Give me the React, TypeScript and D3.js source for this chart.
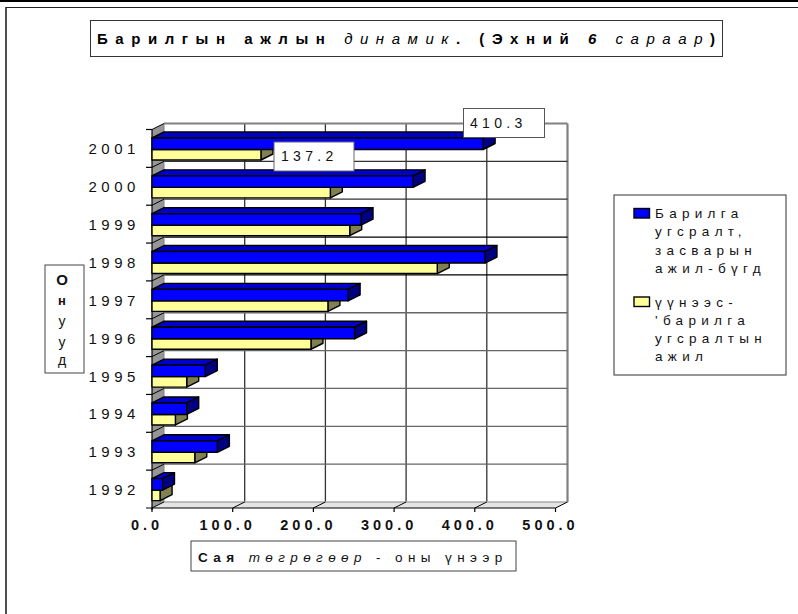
import React from "react";
import * as d3 from "d3";

const years = ["2001","2000","1999","1998","1997","1996","1995","1994","1993","1992"];
const repairWork = [410.3,323.5,259,412.6,243,251,66,43,81,13];
const buildingWork = [135,221,245,353.5,218,197,43,29,53,10];
const valueTicks = [0,100,200,300,400,500];
const series = [
  { name: "building", offset: 11.5, height: 10.5, values: buildingWork, front: "#ffff99", top: "#cccc7a", side: "#808050" },
  { name: "repair", offset: 0, height: 11.5, values: repairWork, front: "#0000ff", top: "#0000c8", side: "#000080" },
];
const legendLines1 = ["Барилга","угсралт,","засварын","ажил-бүгд"];
const legendLines2 = ["үүнээс-","'барилга","угсралтын","ажил"];
const yLabel = ["О","н","у","у","д"];
const font = "Liberation Sans, Arial, sans-serif";

const x = d3.scaleLinear().domain([0,500]).range([152,555.5]);
const y = d3.scaleBand().domain(years).range([129.5,508]);
const DX = 12, DY = 6;
const pts = (p: number[][]) => p.map(a => a.join(",")).join(" ");

export default function App() {
  const wallTop = 129.5 - DY, wallBottom = 508 - DY;
  const bars: React.ReactNode[] = [];
  years.forEach((yr, i) => {
    const band = y(yr)!;
    series.forEach((s) => {
      const h = s.height;
      const yy = band + 8.5 + s.offset;
      const x0 = x(0), x1 = x(s.values[i]);
      bars.push(<g key={yr + s.name} stroke="#000" strokeWidth={1.4} strokeLinejoin="round">
        <polygon points={pts([[x0,yy],[x0+DX,yy-DY],[x1+DX,yy-DY],[x1,yy]])} fill={s.top} />
        <polygon points={pts([[x1,yy],[x1+DX,yy-DY],[x1+DX,yy+h-DY],[x1,yy+h]])} fill={s.side} />
        <rect x={x0} y={yy} width={x1-x0} height={h} fill={s.front} />
      </g>);
    });
  });
  const spaced = (ls: number) => ({ letterSpacing: ls, fontFamily: font });
  return (
    <svg width={798} height={614} style={{ position: "absolute", left: 0, top: 0, background: "#fff" }}>
      <line x1={0} x2={798} y1={1} y2={1} stroke="#000" strokeWidth={2} />
      <line x1={6} x2={798} y1={7.5} y2={7.5} stroke="#222" strokeWidth={1.2} />
      <line x1={6} x2={6} y1={7} y2={614} stroke="#222" strokeWidth={1.6} />
      <polygon points={pts([[152,129.5],[164,wallTop],[164,wallBottom],[152,508]])} fill="#969696" />
      <polygon points={pts([[152,508],[164,wallBottom],[x(500)+DX,wallBottom],[x(500),508]])} fill="#e4e4e4" />
      {valueTicks.slice(1).map((t) => <line key={t} x1={x(t)+DX} x2={x(t)+DX} y1={wallTop} y2={wallBottom} stroke={t===500?"#808080":"#333"} strokeWidth={t===500?2.2:1.3} />)}
      {years.map((v,i) => <line key={v} x1={164} x2={x(500)+DX} y1={y(v)!-DY} y2={y(v)!-DY} stroke={i===0?"#808080":i===3||i===4?"#000":i<3?"#333":"#666"} strokeWidth={i===0?2:1.3} />)}
      <line x1={164} x2={x(500)+DX} y1={wallBottom} y2={wallBottom} stroke="#aaa" strokeWidth={1.5} />
      <line x1={164} x2={164} y1={wallTop} y2={wallBottom} stroke="#808080" strokeWidth={1} />
      {years.map(v => <line key={v} x1={146} x2={152} y1={y(v)!} y2={y(v)!} stroke="#000" strokeWidth={1.2} />)}
      {years.map(v => <line key={v} x1={152} x2={164} y1={y(v)!} y2={y(v)!-DY} stroke="#000" strokeWidth={1} />)}
      {valueTicks.map(t => <line key={t} x1={x(t)} x2={x(t)+DX} y1={508} y2={wallBottom} stroke="#000" strokeWidth={1} />)}
      {valueTicks.map(t => <line key={t} x1={x(t)} x2={x(t)} y1={508} y2={512} stroke="#000" strokeWidth={1.2} />)}
      <line x1={146} x2={555.5} y1={508} y2={508} stroke="#000" strokeWidth={1.2} />
      <line x1={152} x2={152} y1={129.5} y2={510} stroke="#000" strokeWidth={1.2} />
      {bars}
      {years.map(v => <text key={v} x={88.5} y={y(v)!+y.bandwidth()/2+6} fontSize={15} fill="#111" style={spaced(4.5)}>{v}</text>)}
      {valueTicks.map(t => <text key={t} x={x(t)-5} y={530} textAnchor="middle" fontSize={14.5} fontWeight="bold" fill="#111" style={spaced(4)}>{d3.format(".1f")(t)}</text>)}

      <rect x={274} y={142} width={80} height={29} fill="#fff" stroke="#666" />
      <text x={281} y={161} fontSize={14} fill="#111" style={spaced(4.3)}>137.2</text>
      <rect x={463.5} y={108.5} width={81} height={29} fill="#fff" stroke="#555" />
      <text x={470} y={128} fontSize={14} fill="#111" style={spaced(4.3)}>410.3</text>

      <rect x={90.5} y={20.5} width={632} height={36} fill="#fff" stroke="#333" />
      <text x={97} y={44} fontSize={15} fontWeight="bold" fill="#000" style={spaced(7.55)}>Барилгын ажлын <tspan fontWeight="normal" fontStyle="italic">динамик</tspan>. (Эхний <tspan fontStyle="italic">6</tspan> <tspan fontWeight="normal" fontStyle="italic">сараар</tspan>)</text>

      <rect x={45} y={265} width={39} height={108} fill="#fff" stroke="#444" />
      {yLabel.map((c,i) => <text key={i} x={62} y={[285,305,326,347,365][i]} textAnchor="middle" fontSize={i===0?15:i===1?13:14} fontWeight={i<2?"bold":"normal"} fill="#111" style={{ fontFamily: font }}>{c}</text>)}

      <rect x={191} y={541} width={325} height={30} fill="#fff" stroke="#444" />
      <text x={198} y={562} fontSize={13.5} fontWeight="bold" fill="#111" style={spaced(5.4)}>Сая <tspan fontWeight="normal" fontStyle="italic">төгрөгөөр</tspan><tspan fontWeight="normal"> - оны үнээр</tspan></text>

      <rect x={614} y={195} width={172} height={180} fill="#fff" stroke="#333" />
      <rect x={634} y={208.5} width={15.5} height={9.5} fill="#0000ff" stroke="#000" strokeWidth={1.4} />
      {legendLines1.map((l,i) => <text key={i} x={655} y={218+i*18.3} fontSize={13.5} fill="#111" style={spaced(5.3)}>{l}</text>)}
      <rect x={634} y={297} width={15.5} height={9.5} fill="#ffff99" stroke="#000" strokeWidth={1.4} />
      {legendLines2.map((l,i) => <text key={i} x={655} y={306.5+i*18.3} fontSize={13.5} fill="#111" style={spaced(5.3)}>{l}</text>)}
    </svg>
  );
}
